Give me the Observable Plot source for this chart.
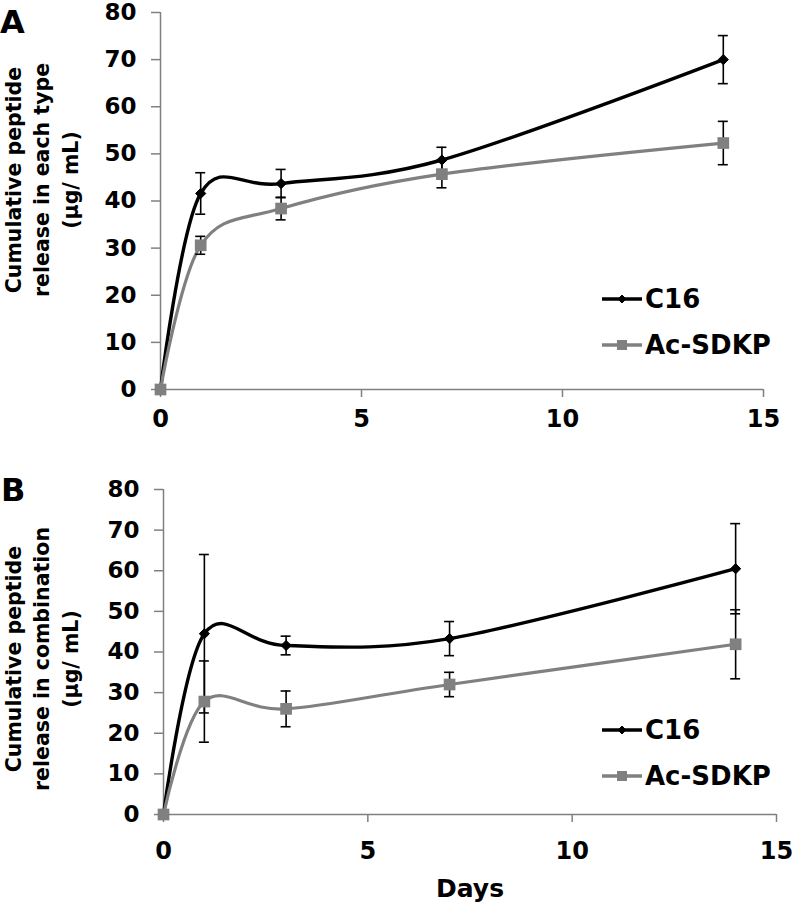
<!DOCTYPE html>
<html>
<head>
<meta charset="utf-8">
<script src="https://cdn.jsdelivr.net/npm/d3@7"></script>
<script src="https://cdn.jsdelivr.net/npm/@observablehq/plot@0.6"></script>
<style>
  body { margin: 0; background: #fff; }
  #fig { position: relative; width: 792px; height: 906px; overflow: hidden; background: #fff; }
  #fig > svg { position: absolute; left: 0; }
</style>
</head>
<body>
<div id="fig"></div>
<script>
// ---------- data ----------
const days = [0, 1, 3, 7, 14];
const seriesNames = ["C16", "Ac-SDKP"];
const seriesColors = ["#000000", "#808080"];

// Panel A: release in each type
const c16A = [0, 41.6, 43.7, 48.7, 70.0];
const c16ErrA = [0, 4.4, 3.0, 2.7, 5.1];
const acA = [0, 30.6, 38.4, 45.7, 52.3];
const acErrA = [0, 1.9, 2.4, 2.9, 4.6];

// Panel B: release in combination
const c16B = [0, 44.5, 41.6, 43.3, 60.5];
const c16ErrB = [0, 19.5, 2.3, 4.2, 11.1];
const acB = [0, 27.8, 26.0, 32.0, 41.9];
const acErrB = [0, 10.0, 4.4, 3.0, 8.5];

const xTicks = [0, 5, 10, 15];
const yTicks = [0, 10, 20, 30, 40, 50, 60, 70, 80];
const yTitleA = ["Cumulative peptide", "release in each type", "(µg/ mL)"];
const yTitleB = ["Cumulative peptide", "release in combination", "(µg/ mL)"];
const xTitle = "Days";
const panelLabels = ["A", "B"];

// ---------- build ----------
const FONT = "DejaVu Sans, sans-serif";

function rows(c16, c16e, ac, ace) {
  const out = [];
  days.forEach((d, i) => out.push({series: seriesNames[0], day: d, value: c16[i], err: c16e[i]}));
  days.forEach((d, i) => out.push({series: seriesNames[1], day: d, value: ac[i], err: ace[i]}));
  return out.map(r => ({...r, lo: r.value - r.err, hi: r.value + r.err}));
}

function panel(data, {height, marginTop, marginBottom, marginLeft, marginRight, tickPadX}) {
  const errs = data.filter(d => d.err > 0);
  const s0 = data.filter(d => d.series === seriesNames[0]);
  const s1 = data.filter(d => d.series === seriesNames[1]);
  return Plot.plot({
    width: 792, height, marginTop, marginBottom, marginLeft, marginRight,
    style: {fontFamily: FONT, fontWeight: "bold", color: "#000", background: "transparent", overflow: "visible"},
    x: {domain: [0, 15]},
    y: {domain: [0, 80]},
    color: {domain: seriesNames, range: seriesColors},
    marks: [
      Plot.axisY({ticks: yTicks, tickSize: 9, tickPadding: 15, stroke: "#808080", strokeWidth: 1.5,
                  fill: "#000", label: null, fontSize: 23, fontWeight: "bold", fontFamily: FONT}),
      Plot.axisX({ticks: xTicks, tickSize: 8, tickPadding: tickPadX, stroke: "#808080", strokeWidth: 1.5,
                  fill: "#000", label: null, fontSize: 24, fontWeight: "bold", fontFamily: FONT}),
      Plot.ruleX([0], {stroke: "#808080", strokeWidth: 1.5}),
      Plot.ruleY([0], {stroke: "#808080", strokeWidth: 1.5}),
      Plot.line(s0, {x: "day", y: "value", stroke: "series", curve: "cardinal", strokeWidth: 3.4}),
      Plot.line(s1, {x: "day", y: "value", stroke: "series", curve: "cardinal", strokeWidth: 3.2}),
      Plot.ruleX(errs, {x: "day", y1: "lo", y2: "hi", stroke: "#000", strokeWidth: 1.6}),
      Plot.ruleY(errs, {x1: "day", x2: "day", y: "hi", insetLeft: -5, insetRight: -5, stroke: "#000", strokeWidth: 1.6}),
      Plot.ruleY(errs, {x1: "day", x2: "day", y: "lo", insetLeft: -5, insetRight: -5, stroke: "#000", strokeWidth: 1.6}),
      Plot.dot(s0, {x: "day", y: "value", symbol: "diamond2", fill: "series", stroke: "series", r: 4.6, strokeWidth: 1}),
      Plot.dot(s1, {x: "day", y: "value", symbol: "square", fill: "series", r: 6.6})
    ]
  });
}

const fig = document.getElementById("fig");

const plotA = panel(rows(c16A, c16ErrA, acA, acErrA),
  {height: 450, marginTop: 12, marginBottom: 61, marginLeft: 160, marginRight: 29, tickPadX: 12});
plotA.style.top = "0px";
fig.appendChild(plotA);

const plotB = panel(rows(c16B, c16ErrB, acB, acErrB),
  {height: 456, marginTop: 39, marginBottom: 92, marginLeft: 163, marginRight: 16, tickPadX: 19});
plotB.style.top = "450px";
fig.appendChild(plotB);

// ---------- overlay: titles, panel letters, legends ----------
const ov = d3.select(fig).append("svg")
  .attr("width", 792).attr("height", 906)
  .style("top", "0px").style("pointer-events", "none")
  .attr("font-family", FONT).attr("font-weight", "bold");

// panel letters
ov.append("text").attr("x", 0).attr("y", 33).attr("font-size", 32).text(panelLabels[0]);
ov.append("text").attr("x", 1).attr("y", 501).attr("font-size", 32).text(panelLabels[1]);

// y titles
function yTitle(lines, cy) {
  const xs = [20.5, 49, 77.5];
  lines.forEach((t, i) => {
    ov.append("text")
      .attr("transform", `translate(${xs[i]},${cy}) rotate(-90)`)
      .attr("text-anchor", "middle")
      .attr("font-size", 20.5)
      .text(t);
  });
}
yTitle(yTitleA, 180);
yTitle(yTitleB, 659);

// x title
ov.append("text").attr("x", 470).attr("y", 897).attr("text-anchor", "middle")
  .attr("font-size", 25).text(xTitle);

// legends
function legend(y0, y1) {
  const ys = [y0, y1];
  seriesNames.forEach((name, i) => {
    const y = ys[i];
    ov.append("line").attr("x1", 602).attr("x2", 642).attr("y1", y).attr("y2", y)
      .attr("stroke", seriesColors[i]).attr("stroke-width", 3.4);
    if (i === 0) {
      ov.append("path").attr("d", d3.symbol(d3.symbolDiamond2, 40)())
        .attr("transform", `translate(622,${y})`).attr("fill", seriesColors[i]).attr("stroke", seriesColors[i]);
    } else {
      ov.append("rect").attr("x", 617).attr("y", y - 5).attr("width", 10).attr("height", 10)
        .attr("fill", seriesColors[i]);
    }
    ov.append("text").attr("x", 645).attr("y", y).attr("dy", "0.36em")
      .attr("font-size", 26).text(name);
  });
}
legend(299, 345);
legend(730, 776);
</script>
</body>
</html>
